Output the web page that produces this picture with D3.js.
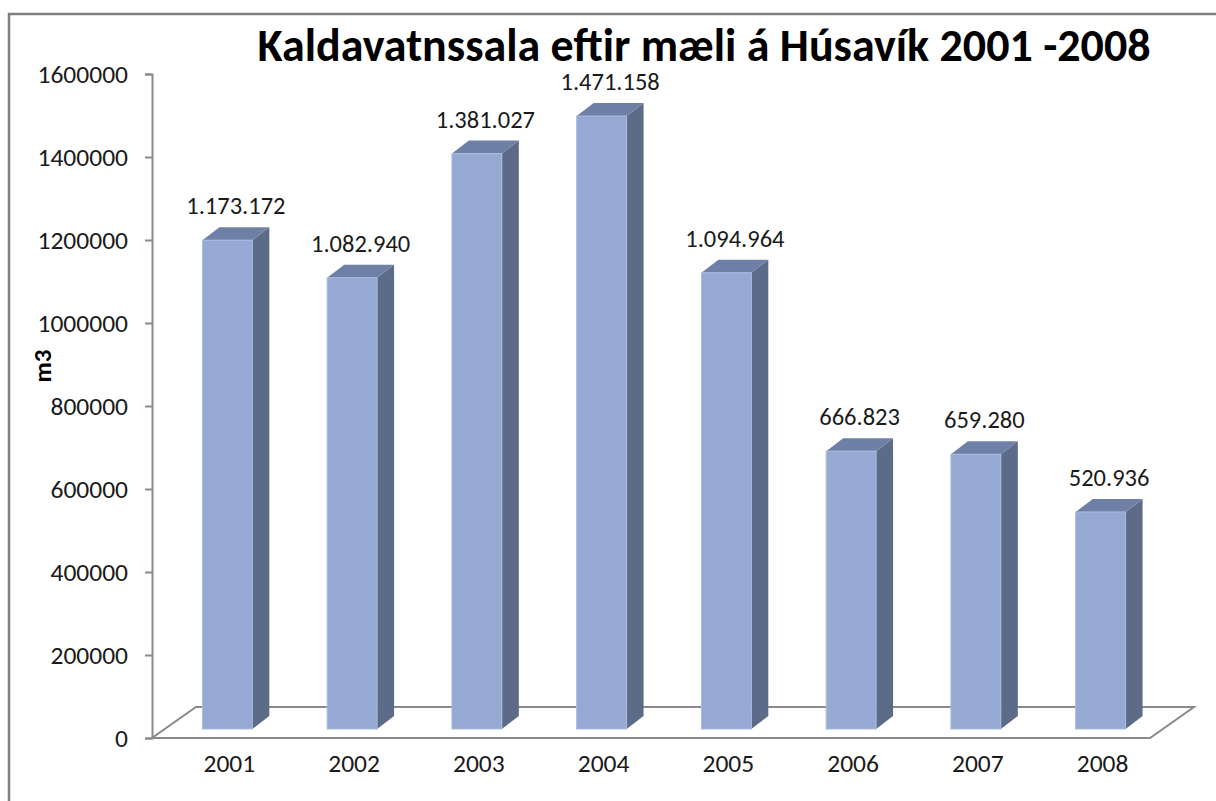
<!DOCTYPE html>
<html>
<head>
<meta charset="utf-8">
<script src="https://cdn.jsdelivr.net/npm/d3@7"></script>
<style>
  html, body { margin: 0; padding: 0; background: #fff; }
  svg { display: block; }
  text { font-family: Carlito, Lato, "Open Sans", sans-serif; fill: #1a1a1a; }
</style>
</head>
<body>
<svg id="chart" width="1216" height="801"></svg>
<script>
const categories = ["2001", "2002", "2003", "2004", "2005", "2006", "2007", "2008"];
const values = [1173172, 1082940, 1381027, 1471158, 1094964, 666823, 659280, 520936];
const yTicks = [0, 200000, 400000, 600000, 800000, 1000000, 1200000, 1400000, 1600000];
const titleText = "Kaldavatnssala eftir mæli á Húsavík 2001 -2008";
const yAxisTitle = "m3";

const svg = d3.select("#chart");
const W = 1216, H = 801;

// outer frame (extends past right and bottom edges)
svg.append("rect")
  .attr("x", 9).attr("y", 14).attr("width", W + 20).attr("height", H + 20)
  .attr("fill", "#fff").attr("stroke", "#7f7f7f").attr("stroke-width", 2.5);

const x = d3.scaleBand().domain(categories).range([152, 1150]).paddingInner(0.6).paddingOuter(0.3);
const y = d3.scaleLinear().domain([0, 1600000]).range([738, 74]);

// depth offsets
const floorDX = 44, floorDY = -31;
const frontDX = 13, frontDY = -9;
const barDX = 17, barDY = -13;

// floor
const fx0 = x.range()[0], fx1 = x.range()[1], fy = y(0);
svg.append("path")
  .attr("d", `M${fx0},${fy} L${fx1},${fy} L${fx1 + floorDX},${fy + floorDY} L${fx0 + floorDX},${fy + floorDY} Z`)
  .attr("fill", "none").attr("stroke", "#8a8a8a").attr("stroke-width", 2);

// y axis
const yAxis = d3.axisLeft(y).tickValues(yTicks).tickSize(7).tickFormat(d3.format("d"));
const gy = svg.append("g").attr("transform", "translate(152,0)").call(yAxis);
gy.select(".domain").attr("stroke", "#8a8a8a").attr("stroke-width", 2);
gy.selectAll(".tick line").attr("stroke", "#8a8a8a").attr("stroke-width", 2);
gy.selectAll(".tick text")
  .attr("x", -24).attr("dy", "0.35em")
  .style("font-size", "25.5px").style("fill", "#1a1a1a");

const fmt = d3.formatLocale({decimal: ",", thousands: ".", grouping: [3], currency: ["", ""]}).format(",d");

// bars
const bars = svg.append("g").selectAll("g").data(categories).join("g");
bars.each(function(c, i) {
  const g = d3.select(this);
  const xl = x(c) + frontDX, xr = xl + x.bandwidth();
  const yb = y(0) + frontDY;
  const yt = yb - (y(0) - y(values[i])) * 1.004;
  // side face
  g.append("path")
    .attr("d", `M${xr},${yt} L${xr + barDX},${yt + barDY} L${xr + barDX},${yb + barDY} L${xr},${yb} Z`)
    .attr("fill", "#5c6b88");
  // top face
  g.append("path")
    .attr("d", `M${xl},${yt} L${xl + barDX},${yt + barDY} L${xr + barDX},${yt + barDY} L${xr},${yt} Z`)
    .attr("fill", "#6f80a6");
  // front face
  g.append("rect")
    .attr("x", xl).attr("y", yt).attr("width", x.bandwidth()).attr("height", yb - yt)
    .attr("fill", "#95a9d3").attr("stroke", "#a9bbe0").attr("stroke-width", 1);
  // data label
  g.append("text")
    .attr("x", (xl + xr) / 2 + barDX / 2)
    .attr("y", yt + barDY - 13)
    .attr("text-anchor", "middle")
    .style("font-size", "24.5px")
    .text(fmt(values[i]));
  // category label
  g.append("text")
    .attr("x", (xl + xr) / 2 + 2)
    .attr("y", 772)
    .attr("text-anchor", "middle")
    .style("font-size", "25.5px")
    .text(c);
});

// title
svg.append("text")
  .attr("x", 704).attr("y", 61)
  .attr("text-anchor", "middle")
  .style("font-size", "46px").style("font-weight", "bold").style("fill", "#000")
  .text(titleText);

// y axis title
svg.append("text")
  .attr("transform", "translate(51,366) rotate(-90)")
  .attr("text-anchor", "middle")
  .style("font-size", "25px").style("font-weight", "bold").style("fill", "#000")
  .text(yAxisTitle);
</script>
</body>
</html>
